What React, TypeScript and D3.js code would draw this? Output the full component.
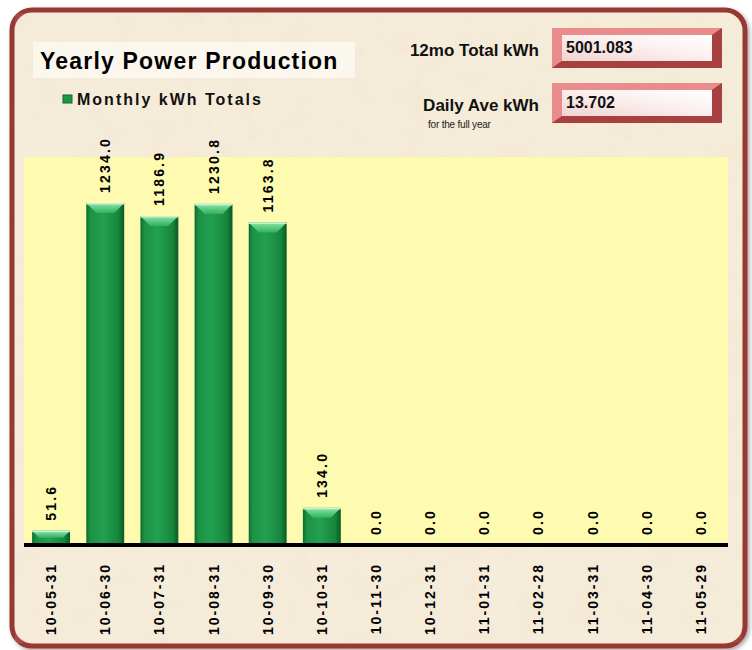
import React, { useEffect, useRef } from "react";
import * as d3 from "d3";

const categories: string[] = [
  "10-05-31", "10-06-30", "10-07-31", "10-08-31", "10-09-30", "10-10-31",
  "10-11-30", "10-12-31", "11-01-31", "11-02-28", "11-03-31", "11-04-30", "11-05-29",
];
const monthlyKwh: number[] = [51.6, 1234.0, 1186.9, 1230.8, 1163.8, 134.0, 0, 0, 0, 0, 0, 0, 0];
const statLabels: string[] = ["12mo Total kWh", "Daily Ave kWh"];
const statValues: string[] = ["5001.083", "13.702"];

const width = 752;
const height = 650;

const PowerChart = () => {
  const ref = useRef<any>(null);

  useEffect(() => {
    const svg = d3.select(ref.current);
    svg.selectAll("*").remove();

    const defs = svg.append("defs");

    // parchment texture
    const tex = defs.append("filter").attr("id", "paper").attr("x", 0).attr("y", 0).attr("width", 1).attr("height", 1);
    tex.append("feTurbulence").attr("type", "fractalNoise").attr("baseFrequency", "0.035").attr("numOctaves", 3).attr("seed", 4).attr("result", "n");
    tex.append("feColorMatrix").attr("in", "n").attr("type", "matrix")
      .attr("values", "0 0 0 0 0.80  0 0 0 0 0.70  0 0 0 0 0.50  0 0 0 -0.9 0.55");

    const barGrad = defs.append("linearGradient").attr("id", "barGrad").attr("x1", 0).attr("x2", 1).attr("y1", 0).attr("y2", 0);
    [["0%", "#0b6a2c"], ["10%", "#1c9145"], ["45%", "#23a050"], ["85%", "#17863d"], ["100%", "#085a25"]].forEach(([o, c]) =>
      barGrad.append("stop").attr("offset", o).attr("stop-color", c));

    const topGrad = defs.append("linearGradient").attr("id", "topGrad").attr("x1", 0).attr("x2", 0).attr("y1", 0).attr("y2", 1);
    topGrad.append("stop").attr("offset", "0%").attr("stop-color", "#8be6a6");
    topGrad.append("stop").attr("offset", "100%").attr("stop-color", "#32b060");

    const boxGrad = defs.append("linearGradient").attr("id", "boxGrad").attr("x1", 0).attr("x2", 1).attr("y1", 1).attr("y2", 0);
    boxGrad.append("stop").attr("offset", "0%").attr("stop-color", "#f1d3d1");
    boxGrad.append("stop").attr("offset", "55%").attr("stop-color", "#fbf0ef");
    boxGrad.append("stop").attr("offset", "100%").attr("stop-color", "#ffffff");

    const shadow = defs.append("filter").attr("id", "shadow").attr("x", "-5%").attr("y", "-5%").attr("width", "110%").attr("height", "110%");
    shadow.append("feDropShadow").attr("dx", 2).attr("dy", 2).attr("stdDeviation", 2).attr("flood-color", "#000").attr("flood-opacity", 0.35);

    // frame
    svg.append("rect").attr("width", width).attr("height", height).attr("fill", "#ffffff");
    svg.append("rect")
      .attr("x", 12).attr("y", 10).attr("width", 733).attr("height", 636).attr("rx", 20)
      .attr("fill", "#f5ecda").attr("stroke", "#983733").attr("stroke-width", 5)
      .attr("filter", "url(#shadow)");
    svg.append("rect")
      .attr("x", 15).attr("y", 13).attr("width", 727).attr("height", 630).attr("rx", 18)
      .attr("filter", "url(#paper)").attr("opacity", 0.4);

    // plot area
    const x = d3.scaleBand().domain(categories).range([24, 728]).paddingInner(0.3).paddingOuter(0.15);
    const y = d3.scaleLinear().domain([0, 1400]).range([545, 157]);

    svg.append("rect")
      .attr("x", 24).attr("y", y(1400)).attr("width", 704).attr("height", y(0) - y(1400))
      .attr("fill", "#fefbb1");

    const font = "Arial, 'Liberation Sans', sans-serif";

    // bars
    const bars = svg.append("g").selectAll("g").data(monthlyKwh).enter().append("g");
    bars.append("rect")
      .attr("x", (d, i) => x(categories[i])!)
      .attr("y", (d) => y(d))
      .attr("width", x.bandwidth())
      .attr("height", (d) => y(0) - y(d))
      .attr("fill", "url(#barGrad)");
    bars.append("path")
      .attr("d", (d, i) => {
        const x0 = x(categories[i])!;
        const x1 = x0 + x.bandwidth();
        const top = y(d);
        const h = y(0) - top;
        if (h <= 0) return "";
        const b = Math.min(10, h / 2);
        return `M${x0},${top}L${x1},${top}L${x1 - b},${top + b}L${x0 + b},${top + b}Z`;
      })
      .attr("fill", "url(#topGrad)");
    bars.append("rect")
      .attr("x", (d, i) => x(categories[i])!)
      .attr("y", (d) => y(d))
      .attr("width", x.bandwidth())
      .attr("height", (d) => (d > 0 ? 1.5 : 0))
      .attr("fill", "#c4f4d2");

    // value labels
    svg.append("g").selectAll("text").data(monthlyKwh).enter().append("text")
      .attr("transform", (d, i) => `translate(${x(categories[i])! + x.bandwidth() / 2 + 5},${y(d) - 10}) rotate(-90)`)
      .attr("font-family", font).attr("font-weight", "bold").attr("font-size", 14)
      .attr("letter-spacing", 2.2).attr("fill", "#000")
      .text((d) => d.toFixed(1));

    // axis
    const axis = svg.append("g").attr("transform", `translate(0,${y(0)})`)
      .call(d3.axisBottom(x).tickSize(0).tickPadding(0));
    axis.select(".domain").attr("stroke", "#000").attr("stroke-width", 4).attr("d", "M24,0H728");
    axis.selectAll(".tick text")
      .attr("transform", "translate(5,18) rotate(-90)")
      .attr("x", 0).attr("y", 0).attr("dy", 0)
      .attr("text-anchor", "end")
      .attr("font-family", font).attr("font-weight", "bold").attr("font-size", 14)
      .attr("letter-spacing", 2).attr("fill", "#000");

    // title
    svg.append("rect").attr("x", 33).attr("y", 42).attr("width", 322).attr("height", 36).attr("fill", "#fcf9f1").attr("opacity", 0.85);
    svg.append("text").attr("x", 40).attr("y", 69)
      .attr("font-family", font).attr("font-weight", "bold").attr("font-size", 23).attr("letter-spacing", 1.2)
      .attr("fill", "#000").text("Yearly Power Production");

    // legend
    svg.append("rect").attr("x", 63).attr("y", 95).attr("width", 9).attr("height", 8).attr("fill", "#1f9447").attr("stroke", "#0d6a2e").attr("stroke-width", 1);
    svg.append("text").attr("x", 77).attr("y", 105)
      .attr("font-family", font).attr("font-weight", "bold").attr("font-size", 16).attr("letter-spacing", 2)
      .attr("fill", "#111").text("Monthly kWh Totals");

    // stat boxes
    statLabels.forEach((lab, i) => {
      const by = 28 + i * 55;
      svg.append("text").attr("x", 539).attr("y", by + 28).attr("text-anchor", "end")
        .attr("font-family", font).attr("font-weight", "bold").attr("font-size", 17).attr("fill", "#111").text(lab);
      const g = svg.append("g").attr("transform", `translate(552,${by})`);
      g.append("rect").attr("width", 170).attr("height", 40).attr("fill", "#c4575a");
      g.append("path").attr("d", "M0,0H170L160,7H10V33L0,40Z").attr("fill", "#e88c8c");
      g.append("path").attr("d", "M170,0V40H0L10,33H160V7Z").attr("fill", "#a8403f");
      g.append("rect").attr("x", 10).attr("y", 7).attr("width", 150).attr("height", 26).attr("fill", "url(#boxGrad)");
      g.append("text").attr("x", 14).attr("y", 25)
        .attr("font-family", font).attr("font-weight", "bold").attr("font-size", 16).attr("fill", "#111").text(statValues[i]);
    });
    svg.append("text").attr("x", 428).attr("y", 128)
      .attr("font-family", font).attr("font-size", 10).attr("fill", "#222").attr("letter-spacing", -0.2).text("for the full year");
  }, []);

  return <svg ref={ref} width={width} height={height} style={{ display: "block" }}></svg>;
};

export default function App() {
  return (
    <div style={{ position: "absolute", left: 0, top: 0 }}>
      <PowerChart />
    </div>
  );
}
